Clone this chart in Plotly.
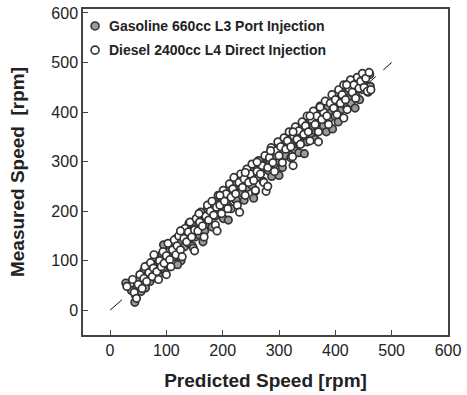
import plotly.graph_objects as go

gas_x = [28,38,44,45,48,52,55,58,60,63,66,68,71,74,76,79,82,84,86,89,92,94,97,99,102,105,107,110,113,116,118,121,124,126,129,132,135,137,140,143,146,148,151,154,157,159,162,165,168,170,173,176,179,181,184,187,190,192,195,198,201,204,207,210,212,215,218,221,224,227,229,232,235,238,241,244,247,249,252,255,258,261,264,267,269,272,275,278,281,284,287,289,292,295,298,301,304,306,309,312,315,318,321,324,327,329,332,335,338,341,344,347,350,352,355,358,361,364,367,370,373,376,379,382,384,387,390,393,396,399,402,405,408,411,414,417,420,423,425,428,431,434,437,440,443,446,449,452,455,458,461,462,
         95,140,175,222,262,300,340,372,410,120,165,210,255,300,345,395,435]
gas_y = [55,40,16,30,48,62,38,55,80,45,70,90,58,78,98,66,88,105,72,95,112,84,102,125,96,118,88,132,108,125,145,115,138,100,150,128,142,162,135,155,130,170,148,165,182,152,172,195,160,185,205,175,195,168,212,190,205,228,198,215,185,232,212,225,245,205,232,252,222,240,262,238,255,222,270,248,262,282,252,275,240,292,268,282,300,260,288,308,282,298,270,318,295,310,330,300,318,288,338,312,328,345,308,335,355,322,342,318,365,338,352,372,340,360,382,350,372,345,392,368,382,402,372,390,360,410,388,400,420,392,412,380,428,405,420,440,410,428,448,418,438,460,432,448,425,465,445,470,452,440,476,452,
         132,175,210,258,298,336,374,408,442,92,138,182,226,272,316,366,408]

die_x = [30,40,43,47,50,53,57,60,62,65,69,72,75,77,80,83,86,88,91,94,96,100,103,106,108,111,114,117,119,122,125,128,131,133,136,139,142,145,148,150,153,156,159,161,164,167,170,173,175,178,181,184,187,189,192,195,198,201,203,206,209,212,215,218,220,223,226,229,232,235,238,240,243,246,249,252,255,258,261,264,267,270,273,275,277,280,283,286,289,292,295,298,300,303,306,309,312,315,318,321,324,326,329,332,335,338,341,344,347,350,352,355,358,361,364,367,370,373,376,379,382,385,388,391,394,397,400,403,406,409,412,415,418,421,424,427,430,433,436,439,442,445,448,451,454,457,460,463,
         78,125,158,195,240,261,285,325,355,373,420,100,150,190,230,280,325,370,415]
die_y = [48,62,36,24,52,72,44,64,88,58,76,96,68,85,108,78,62,100,88,118,95,110,135,102,88,122,142,112,130,150,122,108,145,165,138,158,178,148,125,162,185,160,178,198,170,148,190,212,182,200,220,192,172,208,232,212,195,242,220,235,205,255,228,245,268,235,212,258,275,248,265,232,285,258,275,295,262,242,280,302,275,292,258,312,240,288,308,328,298,280,322,340,312,330,298,348,325,342,360,330,310,352,370,345,362,335,380,355,372,392,360,342,385,402,375,392,360,412,385,400,422,392,375,418,435,408,425,395,445,418,435,455,425,405,448,465,440,455,428,470,448,462,478,450,468,442,480,445,
         112,160,195,232,278,299,322,360,392,410,455,72,120,160,198,250,292,340,388]

ref_x = [0, 500]
ref_y = [0, 500]

x_ticks = [0, 100, 200, 300, 400, 500, 600]
y_ticks = [0, 100, 200, 300, 400, 500, 600]

legend_names = ["Gasoline 660cc L3 Port Injection", "Diesel 2400cc L4 Direct Injection"]
legend_fills = ["#9a9a9a", "#ffffff"]

FONT = "Liberation Sans, Arial, sans-serif"
OUT = "#333"

fig = go.Figure()
fig.add_trace(go.Scatter(x=ref_x, y=ref_y, mode="lines", showlegend=False,
                         line=dict(color="#111", width=1, dash="16px,10px")))
fig.add_trace(go.Scatter(x=gas_x, y=gas_y, mode="markers", name=legend_names[0], showlegend=False,
                         marker=dict(size=7.5, color=legend_fills[0], line=dict(color=OUT, width=1.7))))
fig.add_trace(go.Scatter(x=die_x, y=die_y, mode="markers", name=legend_names[1], showlegend=False,
                         marker=dict(size=7.5, color=legend_fills[1], line=dict(color=OUT, width=1.7))))

# manual legend (inside plot, top-left)
leg_y = [0.948, 0.874]
for name, fill, yy in zip(legend_names, legend_fills, leg_y):
    fig.add_shape(type="circle", xref="paper", yref="paper", xsizemode="pixel", ysizemode="pixel",
                  xanchor=0.033, yanchor=yy, x0=-4, x1=4, y0=-4, y1=4,
                  fillcolor=fill, line=dict(color=OUT, width=1.6))
    fig.add_annotation(xref="paper", yref="paper", x=0.066, y=yy, xanchor="left", yanchor="middle",
                       text="<b>" + name + "</b>", showarrow=False,
                       font=dict(size=14, family=FONT, color="#222"))

fig.update_layout(
    width=467, height=395,
    margin=dict(l=83, r=19, t=9, b=60, autoexpand=False),
    paper_bgcolor="white", plot_bgcolor="white",
    font=dict(family=FONT, color="#222"),
    showlegend=False,
    xaxis=dict(range=[-48, 600], tickvals=x_ticks, ticks="inside", ticklen=5, tickcolor="#444",
               showline=True, linecolor="#444", linewidth=1.5, mirror=True, showgrid=False, zeroline=False,
               tickfont=dict(size=16, family=FONT, color="#222"),
               title=dict(text="<b>Predicted Speed [rpm]</b>", font=dict(size=19, family=FONT, color="#222"), standoff=16)),
    yaxis=dict(range=[-50, 608], tickvals=y_ticks, ticks="inside", ticklen=5, tickcolor="#444",
               showline=True, linecolor="#444", linewidth=1.5, mirror=True, showgrid=False, zeroline=False,
               tickfont=dict(size=16, family=FONT, color="#222"),
               title=dict(text="<b>Measured Speed  [rpm]</b>", font=dict(size=19, family=FONT, color="#222"), standoff=22)),
)

fig.write_html("out.html", config={"displayModeBar": False},
               post_script="document.body.style.margin='0';document.body.style.overflow='hidden';")
